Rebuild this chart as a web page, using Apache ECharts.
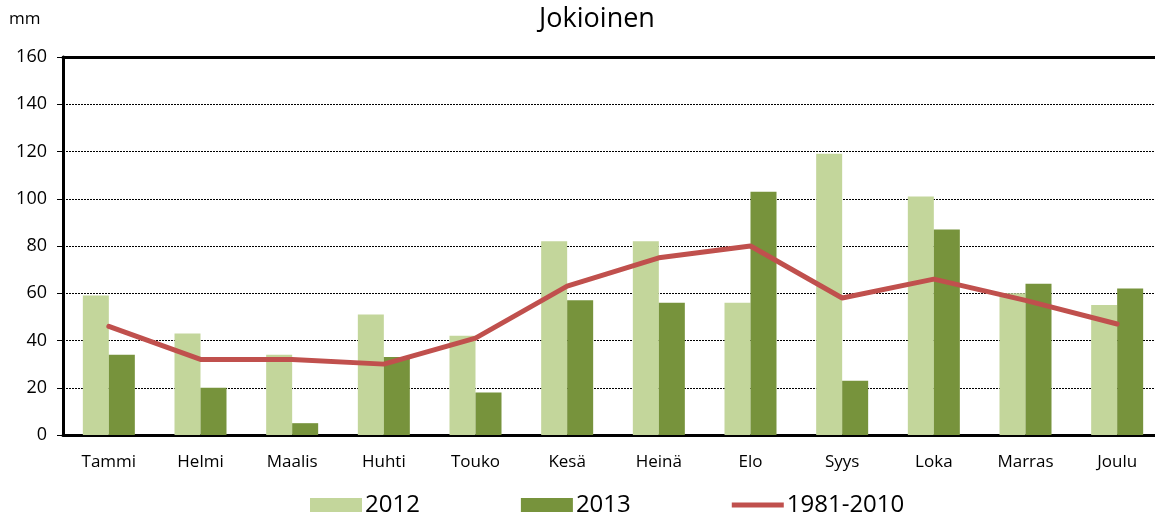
<!DOCTYPE html>
<html>
<head>
<meta charset="utf-8">
<script src="https://cdn.jsdelivr.net/npm/echarts@6/dist/echarts.min.js"></script>
<style>
  html, body { margin: 0; padding: 0; background: #fff; overflow: hidden; }
  #chart { width: 1163px; height: 517px; }
</style>
</head>
<body>
<div id="chart"></div>
<script>
// kuukaudet
var months = ["Tammi", "Helmi", "Maalis", "Huhti", "Touko", "Kesä", "Heinä", "Elo", "Syys", "Loka", "Marras", "Joulu"];
// sademäärät (mm)
var rain2012 = [59, 43, 34, 51, 42, 82, 82, 56, 119, 101, 60, 55];
var rain2013 = [34, 20, 5, 33, 18, 57, 56, 103, 23, 87, 64, 62];
var normal = [46, 32, 32, 30, 41, 63, 75, 80, 58, 66, 57, 47];
var yTicks = [0, 20, 40, 60, 80, 100, 120, 140, 160];

var font = "Open Sans";
var chart = echarts.init(document.getElementById("chart"));

chart.setOption({
  animation: false,
  textStyle: { fontFamily: font, color: "#000" },
  title: {
    text: "Jokioinen",
    left: 592,
    textAlign: "center",
    top: 1,
    textStyle: { fontFamily: font, fontSize: 27, fontWeight: "normal", color: "#000" }
  },
  graphic: [{
    type: "text",
    left: 9,
    top: 11,
    style: { text: "mm", fontFamily: font, fontSize: 17, fill: "#000" }
  }],
  legend: {
    top: 488,
    left: 305,
    itemWidth: 52,
    itemHeight: 14,
    itemGap: 101,
    symbolKeepAspect: true,
    textStyle: { fontFamily: font, fontSize: 24, color: "#000", padding: [0, 0, 0, -2] },
    data: [
      { name: "2012", icon: "rect" },
      { name: "2013", icon: "rect" },
      { name: "1981-2010", icon: "path://M0,0L52,0L52,5L0,5Z" }
    ]
  },
  grid: { left: 63, right: 0, top: 57, bottom: 82 },
  xAxis: [{
    type: "category",
    data: months,
    axisLine: { lineStyle: { color: "#000", width: 3 } },
    axisTick: { show: false },
    axisLabel: { fontFamily: font, fontSize: 17, color: "#000", margin: 19 }
  }, {
    type: "category",
    position: "top",
    data: months,
    axisLine: { lineStyle: { color: "#000", width: 3 } },
    axisTick: { show: false },
    axisLabel: { show: false }
  }],
  yAxis: {
    type: "value",
    min: yTicks[0],
    max: yTicks[yTicks.length - 1],
    interval: 20,
    axisLine: { show: true, lineStyle: { color: "#000", width: 3 } },
    axisTick: { show: true, length: 6, lineStyle: { color: "#000" } },
    axisLabel: { fontFamily: font, fontSize: 18, color: "#000", margin: 16 },
    splitLine: { lineStyle: { color: "#000", type: [2, 1], width: 1 } }
  },
  series: [
    {
      name: "2012",
      type: "bar",
      data: rain2012,
      barWidth: 26,
      barGap: "0%",
      itemStyle: { color: "#c3d69b" }
    },
    {
      name: "2013",
      type: "bar",
      data: rain2013,
      barWidth: 26,
      itemStyle: { color: "#77933c" }
    },
    {
      name: "1981-2010",
      type: "line",
      data: normal,
      symbol: "none",
      lineStyle: { color: "#c0504d", width: 5, cap: "round" },
      itemStyle: { color: "#c0504d" }
    }
  ]
});
</script>
</body>
</html>
